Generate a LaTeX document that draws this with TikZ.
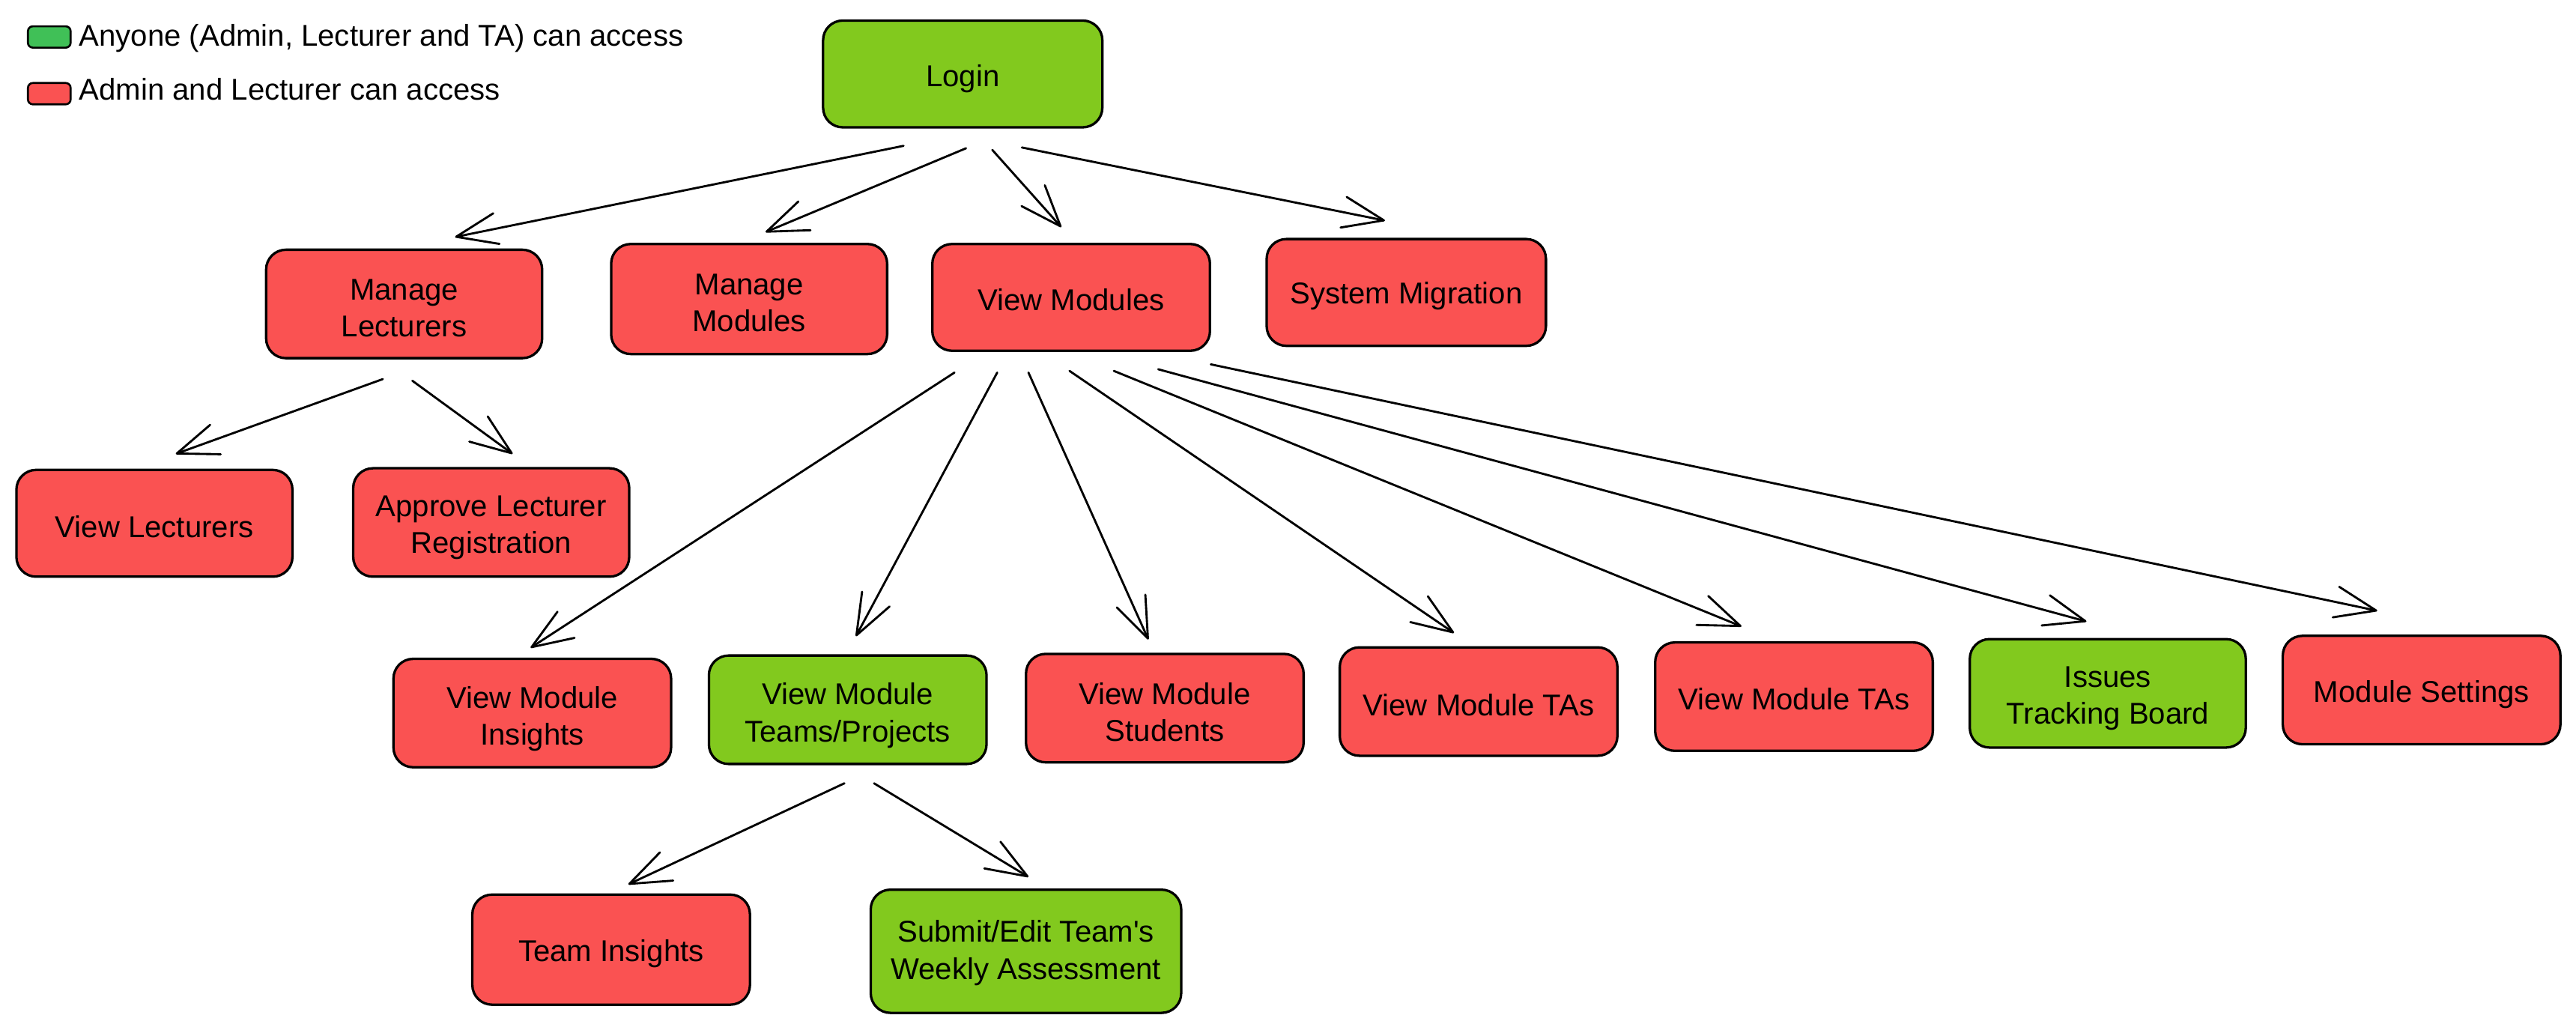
\documentclass[tikz,border=0pt]{standalone}
\usepackage{fontspec}
\setmainfont{Liberation Sans}[Ligatures=TeXOff]
\usetikzlibrary{arrows.meta}
\definecolor{boxgreen}{HTML}{82C91E}
\definecolor{boxred}{HTML}{FA5252}
\definecolor{legendgreen}{HTML}{40C057}
\begin{document}
\begin{tikzpicture}[x=1pt,y=-1pt,
  box/.style={draw=black, line width=1.5pt, rounded corners=12pt,
    minimum width=169pt, minimum height=66pt, inner sep=0pt},
  gbox/.style={box, fill=boxgreen},
  rbox/.style={box, fill=boxred},
  btext/.style={align=center, inner sep=0pt, font=\fontsize{18.3}{22.5}\selectfont},
  swatch/.style={draw=black, line width=1.2pt, rounded corners=3pt,
    minimum width=26pt, minimum height=13pt, inner sep=0pt},
  legtext/.style={anchor=base west, inner sep=0pt, font=\fontsize{18.3}{22}\selectfont},
  conn/.style={draw=black, line width=1.3pt, line cap=round, line join=round,
    -{Straight Barb[length=25pt,width=19pt,line cap=round,line join=round]}}]
\useasboundingbox (0,0) rectangle (1568,625);

% legend
\node[swatch, fill=legendgreen] (lg) at (30,22.5) {};
\node[legtext] (lgt) at (48,28) {Anyone (Admin, Lecturer and TA) can access};
\node[swatch, fill=boxred] (lr) at (30,57) {};
\node[legtext] (lrt) at (48,61) {Admin and Lecturer can access};

% boxes
\node[gbox, minimum width=170pt, minimum height=65pt] (login) at (586,45) {};
\node[rbox, minimum width=168pt] (mlect) at (246,185) {};
\node[rbox, minimum width=168pt, minimum height=67pt] (mmod) at (456,182) {};
\node[rbox, minimum height=65pt] (vmod) at (652,181) {};
\node[rbox, minimum width=170pt, minimum height=65pt] (sysmig) at (856,178) {};
\node[rbox, minimum width=168pt, minimum height=65pt] (vlect) at (94,318.5) {};
\node[rbox, minimum width=168pt] (appr) at (299,318) {};
\node[rbox] (vins) at (324,434) {};
\node[gbox] (vteams) at (516,432) {};
\node[rbox] (vstud) at (709,431) {};
\node[rbox] (vta1) at (900,427) {};
\node[rbox] (vta2) at (1092,424) {};
\node[gbox, minimum width=168pt] (issues) at (1283,422) {};
\node[rbox] (mset) at (1474,420) {};
\node[rbox, minimum height=67pt] (tins) at (372,578) {};
\node[gbox, minimum width=189pt, minimum height=75pt] (submit) at (624.5,579) {};

% box texts
\node[btext] (login-t) at ([yshift=-3pt]login) {Login};
\node[btext] (mlect-t) at ([yshift=-2.5pt]mlect) {Manage\\Lecturers};
\node[btext] (mmod-t) at ([yshift=-2.5pt]mmod) {Manage\\Modules};
\node[btext] (vmod-t) at ([yshift=-1.5pt]vmod) {View Modules};
\node[btext] (sysmig-t) at ([yshift=-2pt]sysmig) {System Migration};
\node[btext] (vlect-t) at ([yshift=-2pt]vlect) {View Lecturers};
\node[btext] (appr-t) at ([yshift=-3pt]appr) {Approve Lecturer\\Registration};
\node[btext] (vins-t) at ([yshift=-3.5pt]vins) {View Module\\Insights};
\node[btext] (vteams-t) at ([yshift=-3.5pt]vteams) {View Module\\Teams/Projects};
\node[btext] (vstud-t) at ([yshift=-2.5pt]vstud) {View Module\\Students};
\node[btext] (vta1-t) at ([yshift=-2pt]vta1) {View Module TAs};
\node[btext] (vta2-t) at ([yshift=-1.5pt]vta2) {View Module TAs};
\node[btext] (issues-t) at ([yshift=-3pt]issues) {Issues\\Tracking Board};
\node[btext] (mset-t) at ([yshift=-2.5pt]mset) {Module Settings};
\node[btext] (tins-t) at ([yshift=-2.5pt]tins) {Team Insights};
\node[btext] (submit-t) at ([yshift=-1pt]submit) {Submit/Edit Team's\\Weekly Assessment};

% connectors
\draw[conn] ([xshift=-36pt,yshift=-10.5pt]login.south) -- ([xshift=31pt,yshift=7pt]mlect.north);
\draw[conn] ([xshift=2pt,yshift=-12pt]login.south) -- ([xshift=10pt,yshift=6.5pt]mmod.north);
\draw[conn] ([xshift=18pt,yshift=-13pt]login.south) -- ([xshift=-6pt,yshift=9.5pt]vmod.north);
\draw[conn] ([xshift=36pt,yshift=-11.5pt]login.south) -- ([xshift=-13pt,yshift=10.5pt]sysmig.north);

\draw[conn] ([xshift=-13pt,yshift=-12pt]mlect.south) -- ([xshift=13pt,yshift=9pt]vlect.north);
\draw[conn] ([xshift=5pt,yshift=-13pt]mlect.south) -- ([xshift=13pt,yshift=8pt]appr.north);

\draw[conn] ([xshift=-71pt,yshift=-12.5pt]vmod.south) -- ([xshift=-1pt,yshift=6pt]vins.north);
\draw[conn] ([xshift=-45pt,yshift=-12.5pt]vmod.south) -- ([xshift=5pt,yshift=11pt]vteams.north);
\draw[conn] ([xshift=-26pt,yshift=-12.5pt]vmod.south) -- ([xshift=-10pt,yshift=8pt]vstud.north);
\draw[conn] ([xshift=-1pt,yshift=-11.5pt]vmod.south) -- ([xshift=-15pt,yshift=8pt]vta1.north);
\draw[conn] ([xshift=26pt,yshift=-11.5pt]vmod.south) -- ([xshift=-32pt,yshift=9pt]vta2.north);
\draw[conn] ([xshift=53pt,yshift=-10.5pt]vmod.south) -- ([xshift=-13pt,yshift=10pt]issues.north);
\draw[conn] ([xshift=85pt,yshift=-7.5pt]vmod.south) -- ([xshift=-27pt,yshift=14.5pt]mset.north);

\draw[conn] ([xshift=-2pt,yshift=-11pt]vteams.south) -- ([xshift=10.5pt,yshift=5.5pt]tins.north);
\draw[conn] ([xshift=16pt,yshift=-11pt]vteams.south) -- ([xshift=1.5pt,yshift=7pt]submit.north);
\end{tikzpicture}
\end{document}
